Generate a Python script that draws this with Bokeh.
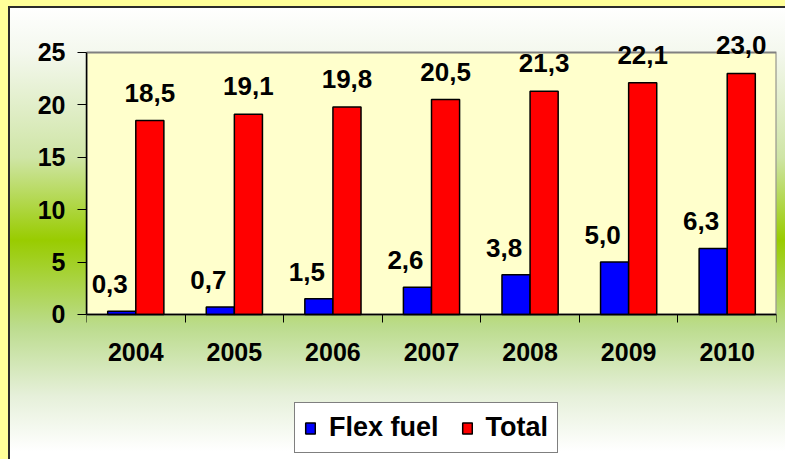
from bokeh.plotting import figure
from bokeh.models import ColumnDataSource, FixedTicker, Legend, LegendItem, InlineStyleSheet, Range1d, LabelSet
from bokeh.core.properties import value
from bokeh.embed import file_html
from bokeh.resources import INLINE

years = ["2004", "2005", "2006", "2007", "2008", "2009", "2010"]
flex_fuel = [0.3, 0.7, 1.5, 2.6, 3.8, 5.0, 6.3]
total = [18.5, 19.1, 19.8, 20.5, 21.3, 22.1, 23.0]
y_ticks = [0, 5, 10, 15, 20, 25]
y_max = 25

FONT = "Liberation Sans"
BAR_W = 0.285

centers = [i + 0.5 for i in range(len(years))]
src = ColumnDataSource(dict(
    x_flex=[c - BAR_W / 2 for c in centers],
    x_total=[c + BAR_W / 2 for c in centers],
    flex=flex_fuel,
    total=total,
    flex_lbl=[f"{v:.1f}".replace(".", ",") for v in flex_fuel],
    total_lbl=[f"{v:.1f}".replace(".", ",") for v in total],
))

css = InlineStyleSheet(css="""
:host {
  background:
    linear-gradient(#2b2b2b, #2b2b2b) 8px 6px / 2px 100% no-repeat,
    linear-gradient(#2b2b2b, #2b2b2b) 8px 6px / 100% 2px no-repeat,
    linear-gradient(to bottom, #ffffff 0%, #f4f8ee 10%, #cfe5a6 33%, #99cc00 51%, #bcdc8e 70%, #e6f0da 85%, #ffffff 97%) 8px 6px / 100% 100% no-repeat,
    #FFFF99;
}
""")

# the frame covers the whole height, so labels above 25 and the legend below the axis are not clipped
p = figure(frame_width=690, frame_height=428, output_backend="svg", toolbar_location=None,
           x_range=Range1d(0, len(years)), y_range=Range1d(-13.84, 27),
           min_border_left=86, min_border_right=9, min_border_top=31, min_border_bottom=0,
           stylesheets=[css])
p.border_fill_color = None
p.border_fill_alpha = 0
p.background_fill_color = None
p.background_fill_alpha = 0
p.outline_line_color = None
p.grid.visible = False

# plot area (0..25)
p.quad(left=[0], right=[len(years)], bottom=[0], top=[y_max],
       fill_color="#FFFFCC", line_color="#808080", line_width=2)

r_flex = p.vbar(x="x_flex", top="flex", bottom=0, width=BAR_W, source=src,
                fill_color="#0000FF", line_color="black", line_width=1.5)
r_tot = p.vbar(x="x_total", top="total", bottom=0, width=BAR_W, source=src,
               fill_color="#FF0000", line_color="black", line_width=1.5)

p.add_layout(LabelSet(x="x_flex", y="flex", text="flex_lbl", source=src, x_offset=-12, y_offset=18,
                      text_align="center", text_baseline="alphabetic", text_font=value(FONT),
                      text_font_style="bold", text_font_size="26px", text_color="black"))
p.add_layout(LabelSet(x="x_total", y="total", text="total_lbl", source=src, x_offset=0, y_offset=19,
                      text_align="center", text_baseline="alphabetic", text_font=value(FONT),
                      text_font_style="bold", text_font_size="26px", text_color="black"))

# x axis, pinned at y = 0
p.xaxis.fixed_location = 0
p.xaxis.ticker = FixedTicker(ticks=centers, minor_ticks=list(range(len(years) + 1)))
p.xaxis.major_label_overrides = {c: y for c, y in zip(centers, years)}
p.xaxis.major_tick_out = 0
p.xaxis.major_tick_in = 0
p.xaxis.minor_tick_out = 8
p.xaxis.minor_tick_in = 0
p.xaxis.minor_tick_line_color = "black"
p.xaxis.axis_line_color = "black"
p.xaxis.axis_line_width = 1.5
p.xaxis.major_label_standoff = 21
p.xaxis.major_label_text_font = FONT
p.xaxis.major_label_text_font_style = "bold"
p.xaxis.major_label_text_font_size = "25px"
p.xaxis.major_label_text_color = "black"

# y axis
p.yaxis.ticker = FixedTicker(ticks=y_ticks)
p.yaxis.bounds = (0, y_max)
p.yaxis.major_tick_out = 9
p.yaxis.major_tick_in = 0
p.yaxis.minor_tick_out = 0
p.yaxis.minor_tick_in = 0
p.yaxis.axis_line_color = "black"
p.yaxis.axis_line_width = 1.5
p.yaxis.major_tick_line_color = "black"
p.yaxis.major_label_standoff = 12
p.yaxis.major_label_text_font = FONT
p.yaxis.major_label_text_font_style = "bold"
p.yaxis.major_label_text_font_size = "25px"
p.yaxis.major_label_text_color = "black"

# legend
legend = Legend(items=[LegendItem(label="Flex fuel", renderers=[r_flex]),
                       LegendItem(label="Total", renderers=[r_tot])],
                orientation="horizontal", location=(208, 6),
                glyph_width=12, glyph_height=14, label_standoff=13, spacing=22,
                padding=9, margin=0,
                label_text_font=FONT, label_text_font_style="bold",
                label_text_font_size="27px", label_text_color="black",
                border_line_color="black", border_line_width=1.5,
                background_fill_color="white", background_fill_alpha=1)
p.add_layout(legend, "center")

html = file_html(p, INLINE)
open("out.html", "w").write(html)
